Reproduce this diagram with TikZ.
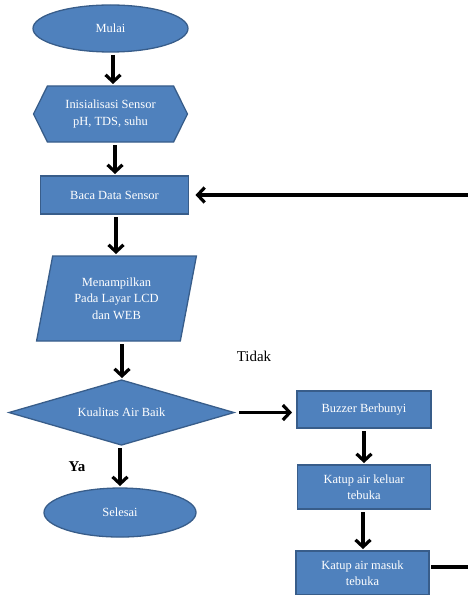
\documentclass[tikz,border=0pt]{standalone}
\usepackage{fontspec}
\setmainfont{Liberation Serif}
\usepackage{tikz}
\usetikzlibrary{shapes.geometric,shapes.symbols,arrows.meta,positioning}

\definecolor{boxblue}{HTML}{4F81BD}
\definecolor{boxedge}{HTML}{385D8A}

\tikzset{
  flow/.style={draw=boxedge, line width=1.3bp, fill=boxblue, text=white, align=center, inner sep=1bp, outer sep=0pt, font=\fontsize{12.5}{16.5}\selectfont},
  terminal/.style={flow, ellipse},
  process/.style={flow, rectangle},
  prep/.style={flow, signal, signal to=west and east, signal pointer angle=127},
  io/.style={flow, trapezium, trapezium left angle=76, trapezium right angle=104, trapezium stretches=true},
  decision/.style={flow, diamond, aspect=3.4},
  arr/.style={-{Straight Barb[length=7bp,width=15bp]}, line width=3.2bp, shorten <=3bp, shorten >=2bp},
  answer/.style={font=\fontsize{15}{17}\selectfont}
}

\begin{document}
\begin{tikzpicture}[x=1bp, y=1bp]
  \useasboundingbox (0,0) rectangle (468,-595);

  \node[terminal, minimum width=155bp, minimum height=47bp] (mulai) at (110.5,-28.5) {Mulai};
  \node[prep, below=34bp of mulai, minimum width=154bp, minimum height=56bp] (init) {Inisialisasi Sensor\\pH, TDS, suhu};
  \node[process, below=34bp of init, xshift=4bp, minimum width=148bp, minimum height=38bp] (baca) {Baca Data Sensor};
  \node[io, below=42bp of baca, xshift=2bp, minimum width=160bp, minimum height=85bp] (tampil) {Menampilkan\\Pada Layar LCD\\dan WEB};
  \node[decision, below=39bp of tampil, xshift=5bp, minimum width=225bp, minimum height=65bp] (kualitas) {Kualitas Air Baik};
  \node[terminal, below=43bp of kualitas, xshift=-1.5bp, minimum width=152bp, minimum height=49bp] (selesai) {Selesai};

  \node[process, right=63bp of kualitas, yshift=3bp, minimum width=134bp, minimum height=37bp] (buzzer) {Buzzer Berbunyi};
  \node[process, below=37bp of buzzer, minimum width=133bp, minimum height=44bp] (keluar) {Katup air keluar\\tebuka};
  \node[process, below=42bp of keluar, xshift=-1.5bp, minimum width=133bp, minimum height=44bp] (masuk) {Katup air masuk\\tebuka};

  \node[answer] (tidak) at (254,-356) {Tidak};
  \node[answer, font=\fontsize{15}{17}\selectfont\bfseries] (ya) at (77,-467) {Ya};

  \coordinate (balik) at (468,-195);
  \coordinate (keluarkanan) at (468,-567);

  \draw[arr] (mulai.south -| 113,0) -- (init.north -| 113,0);
  \draw[arr] (init.south -| 115,0) -- (baca.north -| 115,0);
  \draw[arr] (baca.south -| 116,0) -- (tampil.north -| 116,0);
  \draw[arr] (tampil.south -| 122,0) -- (kualitas.north -| 122,0);
  \draw[arr] (kualitas.south -| 120,0) -- (selesai.north -| 120,0);
  \draw[arr, shorten <=5bp, shorten >=5bp] (kualitas.east) -- (kualitas.east -| buzzer.west);
  \draw[arr] (buzzer.south -| 364,0) -- (keluar.north -| 364,0);
  \draw[arr] (keluar.south -| 363,0) -- (masuk.north -| 363,0);
  \draw[arr, shorten <=0bp, shorten >=7bp] (balik) -- (balik -| baca.east);
  \draw[line width=3.2bp, shorten <=2bp] (masuk.east |- keluarkanan) -- (keluarkanan);
\end{tikzpicture}
\end{document}
